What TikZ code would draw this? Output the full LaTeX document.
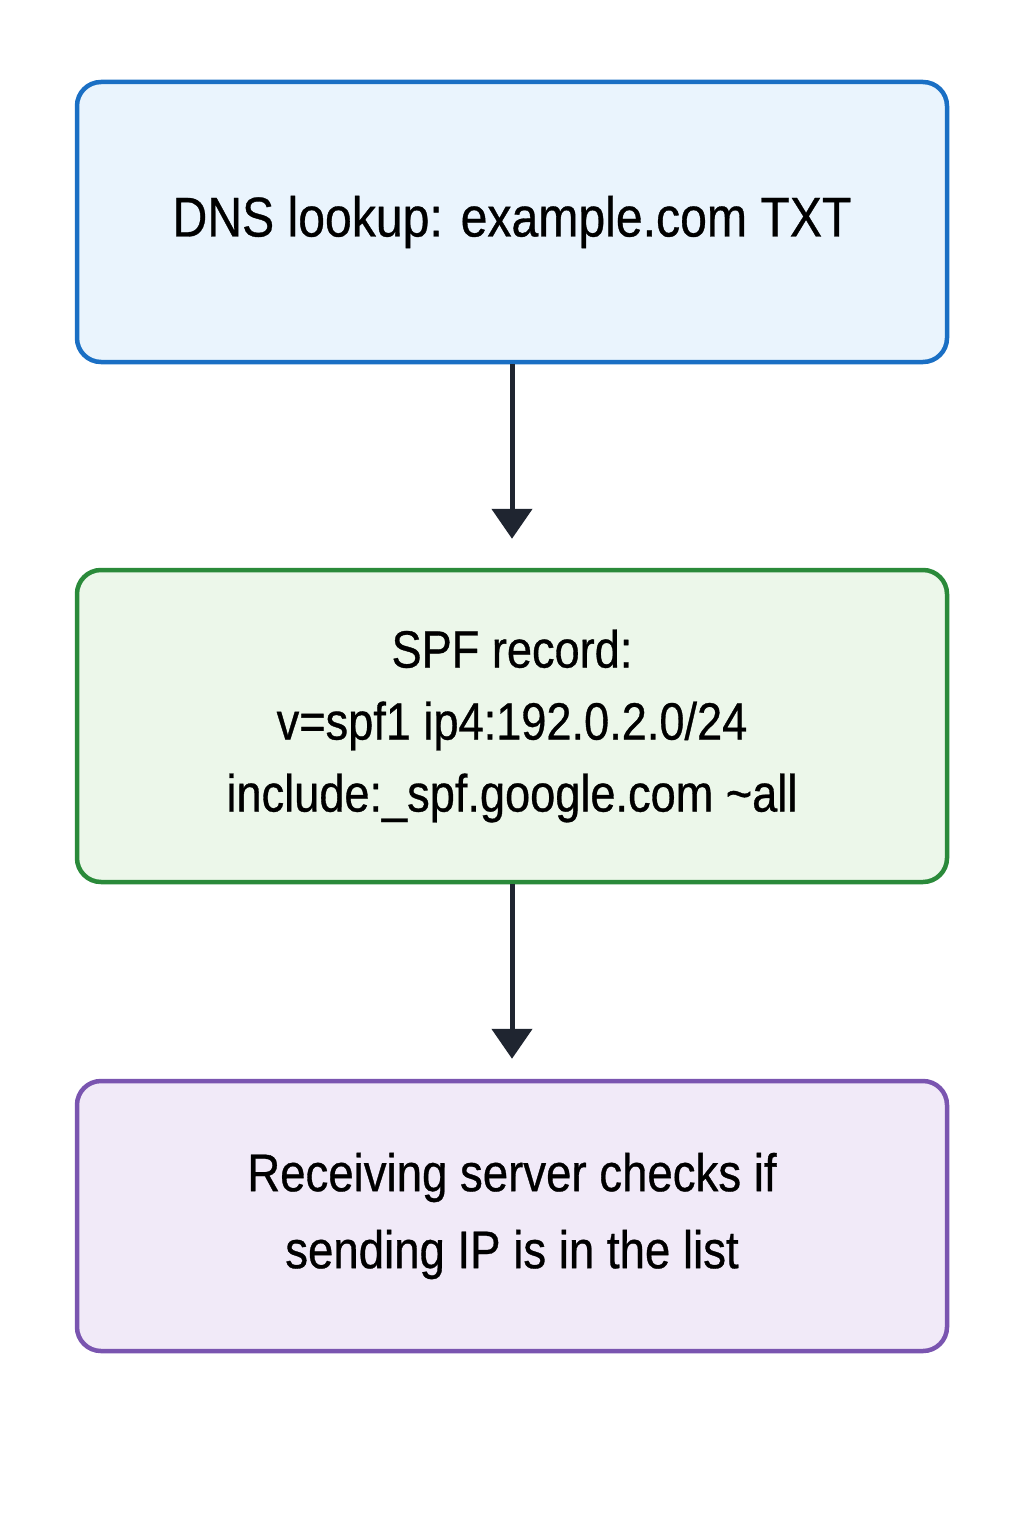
\documentclass[tikz,border=0pt]{standalone}
\usepackage{fontspec}
\setmainfont{Liberation Sans}[FakeStretch=0.86,FakeBold=0.6]
\usetikzlibrary{arrows.meta}
\definecolor{bluebd}{HTML}{1A6FC4}
\definecolor{bluefl}{HTML}{EAF4FD}
\definecolor{greenbd}{HTML}{2A8A3A}
\definecolor{greenfl}{HTML}{ECF7EA}
\definecolor{purpbd}{HTML}{7A55B0}
\definecolor{purpfl}{HTML}{F1EAF8}
\definecolor{arrowc}{HTML}{1F2530}
\tikzset{
  box/.style={rounded corners=24pt, line width=4.5pt, minimum width=870pt, align=center,
    font=\fontsize{56pt}{72pt}\selectfont, text=black, inner sep=0pt},
  flow/.style={draw=arrowc, line width=5pt, -{Triangle[width=40pt,length=30pt]}},
}
\begin{document}
\begin{tikzpicture}[x=1pt,y=-1pt]
\useasboundingbox[fill=white] (0,0) rectangle (1024,1536);
\node[box, draw=bluebd, fill=bluefl, minimum height=280pt] (dns) at (512,222) {DNS lookup: example.com TXT};
\node[box, draw=greenbd, fill=greenfl, minimum height=312pt, font=\fontsize{52.5pt}{72pt}\selectfont] (spf) at (512,726) {SPF record:\\v=spf1 ip4:192.0.2.0/24\\include:\_spf.google.com \textasciitilde all};
\node[box, draw=purpbd, fill=purpfl, minimum height=270pt, font=\fontsize{53pt}{77pt}\selectfont] (chk) at (512,1216) {Receiving server checks if\\sending IP is in the list};
\draw[flow] (dns.south) -- ([yshift=29pt]spf.north);
\draw[flow] (spf.south) -- ([yshift=20pt]chk.north);
\end{tikzpicture}
\end{document}
